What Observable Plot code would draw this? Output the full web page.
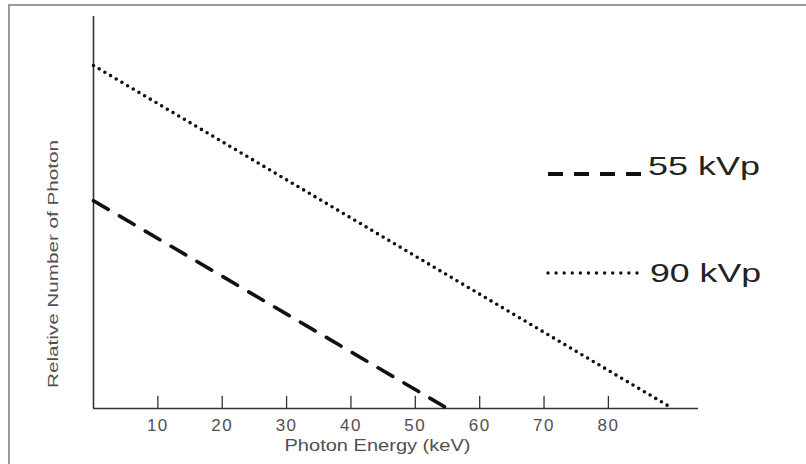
<!DOCTYPE html>
<html>
<head>
<meta charset="utf-8">
<script src="https://cdn.jsdelivr.net/npm/d3@7"></script>
<script src="https://cdn.jsdelivr.net/npm/@observablehq/plot@0.6"></script>
<style>
  html, body { margin: 0; padding: 0; background: #fff; overflow: hidden; }
  #wrap { position: relative; width: 806px; height: 464px; overflow: hidden; }
  #frame { position: absolute; left: 8px; top: 4px; width: 1000px; height: 1000px;
           border-top: 2px solid #9a9a9a; border-left: 2px solid #9a9a9a; box-sizing: border-box; }
  #chart { position: absolute; left: 0; top: 0; }
</style>
</head>
<body>
<div id="wrap"><div id="frame"></div><div id="chart"></div></div>
<script>
// Data
const energy55 = [0, 55];
const photons55 = [53, 0];
const energy90 = [0, 90];
const photons90 = [87.5, 0];
const xTicks = [10, 20, 30, 40, 50, 60, 70, 80];
const seriesNames = ["55 kVp", "90 kVp"];
const xLabel = "Photon Energy (keV)";
const yLabel = "Relative Number of Photon";

const line55 = energy55.map((e, i) => ({energy: e, photons: photons55[i]}));
const line90 = energy90.map((e, i) => ({energy: e, photons: photons90[i]}));

const axisColor = "#333";
const textColor = "#505050";

const chart = Plot.plot({
  width: 806,
  height: 464,
  marginLeft: 93,
  marginRight: 108,
  marginTop: 16,
  marginBottom: 56,
  style: {fontFamily: "'Liberation Sans', Arial, sans-serif", background: "transparent"},
  x: {domain: [0, 94]},
  y: {domain: [0, 100]},
  marks: [
    Plot.ruleY([0], {stroke: axisColor, strokeWidth: 1.6}),
    Plot.ruleX([0], {stroke: axisColor, strokeWidth: 1.6}),
    Plot.ruleX(xTicks, {x: d => d, y1: 0, y2: 3.1, stroke: axisColor, strokeWidth: 1.3}),
    Plot.axisX({ticks: xTicks, tickSize: 0, tickPadding: 10, fontSize: 17, color: textColor, label: null}),
    Plot.axisY({ticks: [], label: null}),
    Plot.text([xLabel], {text: d => d, frameAnchor: "bottom", dx: -18.5, dy: 42, fontSize: 17, fill: textColor}),
    Plot.line(line55, {x: "energy", y: "photons", stroke: "#111", strokeWidth: 3.6, strokeDasharray: "17,13"}),
    Plot.line(line90, {x: "energy", y: "photons", stroke: "#111", strokeWidth: 3.6, strokeDasharray: "0,6.6", strokeLinecap: "round"})
  ]
});

document.getElementById("chart").appendChild(chart);

const svg = d3.select(chart);
svg.selectAll("text").each(function() {
  const t = d3.select(this);
  const s = t.text();
  if (s === xLabel) t.attr("textLength", 186).attr("lengthAdjust", "spacingAndGlyphs");
});
svg.selectAll("g[aria-label='x-axis tick label'] text").attr("letter-spacing", "1.5px");

// Y axis title (rotated)
svg.append("text")
  .attr("transform", "translate(57.5,388) rotate(-90)")
  .attr("text-anchor", "start")
  .attr("font-size", 15)
  .attr("fill", textColor)
  .attr("textLength", 248).attr("lengthAdjust", "spacingAndGlyphs")
  .text(yLabel);

// Legend
const legend = svg.append("g").attr("class", "legend").attr("text-anchor", "start");
legend.append("line").attr("x1", 548).attr("x2", 647).attr("y1", 174).attr("y2", 174)
  .attr("stroke", "#111").attr("stroke-width", 4).attr("stroke-dasharray", "15,11");
legend.append("text").attr("x", 648).attr("y", 175).text(seriesNames[0])
  .attr("font-size", 25).attr("fill", "#222").attr("text-anchor", "start")
  .attr("textLength", 112).attr("lengthAdjust", "spacingAndGlyphs");
legend.append("line").attr("x1", 548).attr("x2", 637).attr("y1", 273).attr("y2", 273)
  .attr("stroke", "#111").attr("stroke-width", 3.4).attr("stroke-dasharray", "0,8.09")
  .attr("stroke-linecap", "round");
legend.append("text").attr("x", 650).attr("y", 282).text(seriesNames[1])
  .attr("font-size", 26).attr("fill", "#222").attr("text-anchor", "start")
  .attr("textLength", 111).attr("lengthAdjust", "spacingAndGlyphs");
</script>
</body>
</html>
